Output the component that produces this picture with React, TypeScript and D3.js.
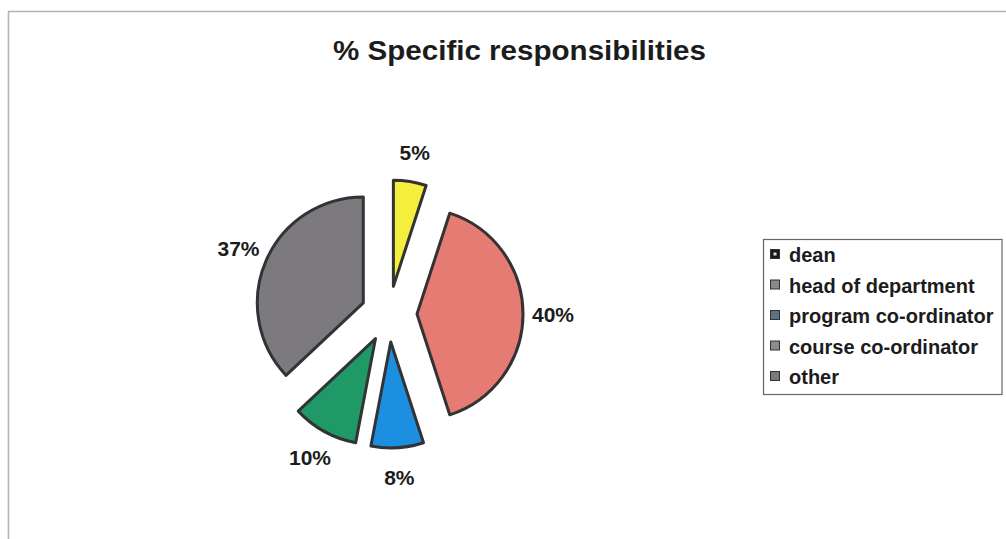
import React from "react";
import * as d3 from "d3";

const categories = ["dean", "head of department", "program co-ordinator", "course co-ordinator", "other"];
const values = [5, 40, 8, 10, 37];
const valueLabels = ["5%", "40%", "8%", "10%", "37%"];
const sliceColors = ["#f4ee3c", "#e57b72", "#1c8fe0", "#1f9a66", "#7c797f"];
const legendColors = ["#1a1a1a", "#8a8a8a", "#5d7280", "#8c8c8c", "#7a7a7a"];

const W = 1006;
const H = 539;
const cx = 389;
const cy = 314;
const R = 106;
const EXPLODE = 28;
const LABEL_R = 136;

export default function App() {
  const pie = d3.pie<number>().sort(null).value((d) => d).startAngle(0).endAngle(2 * Math.PI);
  const arcs = pie(values);
  const arcGen = d3.arc<d3.PieArcDatum<number>>().innerRadius(0).outerRadius(R);
  const labelArc = d3.arc<d3.PieArcDatum<number>>().innerRadius(LABEL_R).outerRadius(LABEL_R);

  const legendY = 239;
  const rowH = 30.5;

  return (
    <svg
      width={W}
      height={H}
      style={{ position: "absolute", left: 0, top: 0, background: "#fff" }}
      fontFamily="'Liberation Sans', Arial, sans-serif"
    >
      <rect x={0} y={0} width={W} height={H} fill="#fff" />
      <path d={`M8.5,${H} L8.5,11.5 L${W},11.5`} fill="none" stroke="#b4b4b4" strokeWidth={1.6} />

      <text
        x={519.5}
        y={59.5}
        textAnchor="middle"
        fontSize={28}
        fontWeight="bold"
        fill="#1c1c1c"
        textLength={373}
        lengthAdjust="spacingAndGlyphs"
      >
        % Specific responsibilities
      </text>

      <g transform={`translate(${cx},${cy})`}>
        {arcs.map((a, i) => {
          const mid = (a.startAngle + a.endAngle) / 2;
          const dx = Math.sin(mid) * EXPLODE;
          const dy = -Math.cos(mid) * EXPLODE;
          return (
            <g key={categories[i]} transform={`translate(${dx},${dy})`}>
              <path d={arcGen(a) || ""} fill={sliceColors[i]} stroke="#333" strokeWidth={3} strokeLinejoin="round" />
            </g>
          );
        })}
        {arcs.map((a, i) => {
          const mid = (a.startAngle + a.endAngle) / 2;
          const dx = Math.sin(mid) * EXPLODE;
          const dy = -Math.cos(mid) * EXPLODE;
          const [lx, ly] = labelArc.centroid(a);
          return (
            <text
              key={"l" + i}
              x={lx + dx}
              y={ly + dy}
              dy="0.36em"
              textAnchor="middle"
              fontSize={21}
              fontWeight="bold"
              fill="#1c1c1c"
            >
              {valueLabels[i]}
            </text>
          );
        })}
      </g>

      <rect x={763.5} y={legendY + 0.5} width={238.5} height={155} fill="#fff" stroke="#666" strokeWidth={1.2} />
      {categories.map((c, i) => {
        const base = 262 + i * rowH;
        return (
          <g key={"lg" + i}>
            <rect x={770.5} y={base - 12.5} width={9} height={9} fill={legendColors[i]} stroke="#333" strokeWidth={1} />
            {i === 0 && <rect x={773.5} y={base - 9.5} width={3} height={3} fill="#ddd" />}
            <text x={789} y={base} fontSize={20} fontWeight="bold" fill="#1c1c1c">
              {c}
            </text>
          </g>
        );
      })}
    </svg>
  );
}
